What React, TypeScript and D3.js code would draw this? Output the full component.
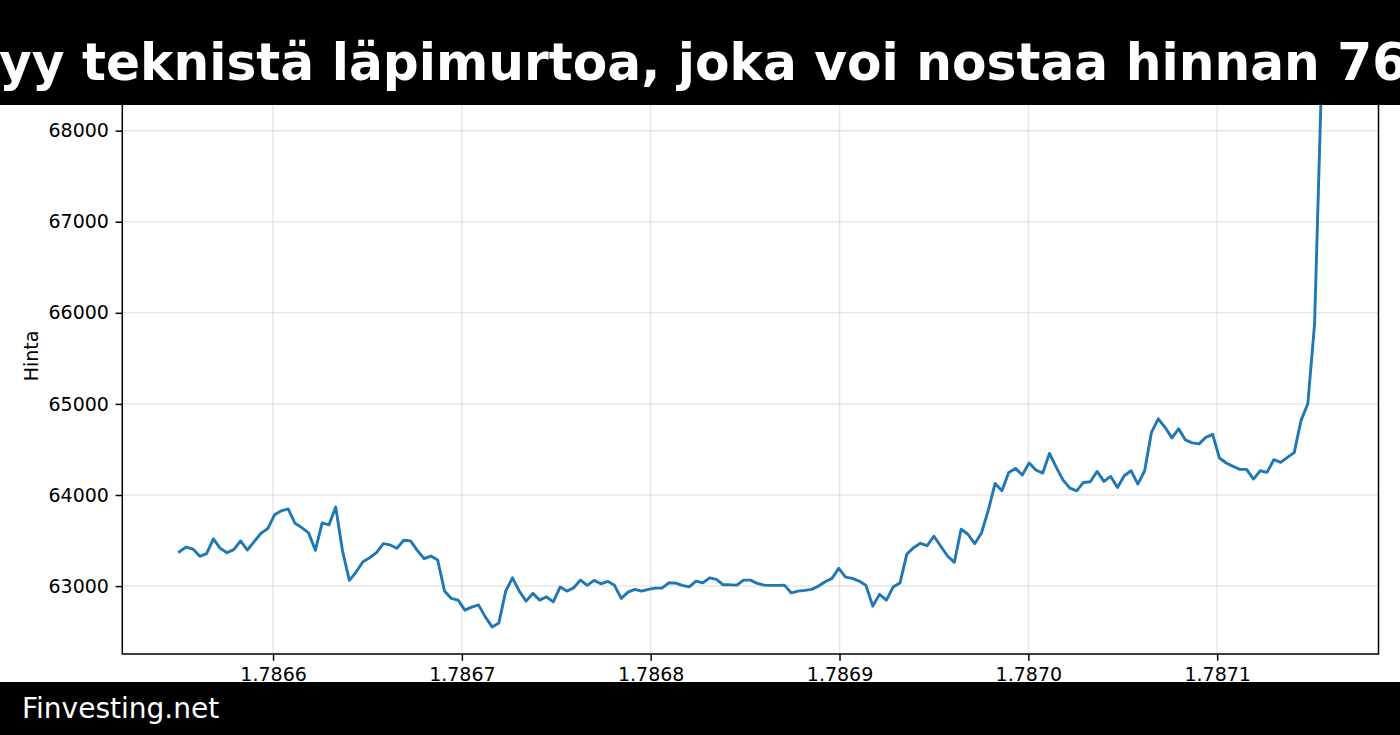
import React, { useEffect, useLayoutEffect, useRef, useState } from "react";
import * as d3 from "d3";

// ---- data ----
const START_TS = 1786550400; // first timestamp (s)
const STEP_S = 3600; // hourly
const prices: number[] = [
  63378, 63429, 63407, 63327, 63356, 63518, 63415, 63367, 63400, 63496,
  63396, 63488, 63580, 63631, 63782, 63826, 63848, 63690, 63642, 63584,
  63393, 63694, 63672, 63867, 63385, 63063, 63154, 63268, 63312, 63367,
  63466, 63452, 63415, 63503, 63496, 63393, 63301, 63330, 63286, 62945,
  62865, 62846, 62736, 62769, 62794, 62662, 62552, 62596, 62945, 63091,
  62945, 62835, 62920, 62846, 62882, 62827, 62989, 62945, 62981, 63066,
  63008, 63063, 63025, 63052, 63008, 62865, 62934, 62964, 62945, 62964,
  62978, 62978, 63036, 63033, 63008, 62992, 63055, 63036, 63091, 63074,
  63014, 63014, 63011, 63066, 63066, 63030, 63011, 63008, 63008, 63011,
  62926, 62945, 62953, 62964, 63000, 63047, 63085, 63195, 63099, 63085,
  63055, 63008, 62780, 62909, 62846, 62989, 63033, 63349, 63422, 63470,
  63444, 63547, 63437, 63330, 63261, 63624, 63569, 63466, 63584, 63834,
  64127, 64046, 64248, 64292, 64219, 64351, 64274, 64241, 64457, 64303,
  64164, 64076, 64046, 64138, 64145, 64259, 64149, 64204, 64083, 64211,
  64266, 64120, 64266, 64688, 64836, 64743, 64627, 64726, 64605, 64572,
  64561, 64633, 64666, 64406, 64351, 64314, 64281, 64281, 64175, 64266,
  64248, 64388, 64358, 64413, 64465, 64817, 65001, 65882, 68500,
];
const xTickValues = [1786600000, 1786700000, 1786800000, 1786900000, 1787000000, 1787100000];
const yTickValues = [63000, 64000, 65000, 66000, 67000, 68000, 69000];
const TITLE = "Bitcoinissa näkyy teknistä läpimurtoa, joka voi nostaa hinnan 76 000 dollariin";
const TITLE_HIDDEN_PREFIX = "Bitcoinissa näk";
const FOOTER = "Finvesting.net";
const Y_LABEL = "Hinta";

const W = 1400;
const H = 735;
const PLOT = { left: 122.3, right: 1378.5, top: 58, bottom: 654 };
const FONT = "'DejaVu Sans', sans-serif";
const TITLE_SX = 0.985;

export default function App() {
  const xAxisRef = useRef<SVGGElement>(null);
  const yAxisRef = useRef<SVGGElement>(null);
  const titleRef = useRef<SVGTextElement>(null);
  const [titleX, setTitleX] = useState(-460);

  const data = prices.map((p, i) => ({ t: START_TS + i * STEP_S, p }));
  const [t0, t1] = d3.extent(data, (d) => d.t) as [number, number];
  const [p0, p1] = d3.extent(data, (d) => d.p) as [number, number];
  const tPad = (t1 - t0) * 0.05;
  const pPad = (p1 - p0) * 0.05;
  const x = d3.scaleLinear().domain([t0 - tPad, t1 + tPad]).range([PLOT.left, PLOT.right]);
  const y = d3.scaleLinear().domain([p0 - pPad, p1 + pPad]).range([PLOT.bottom, PLOT.top]);

  const line = d3
    .line<{ t: number; p: number }>()
    .x((d) => x(d.t))
    .y((d) => y(d.p));

  const yTicks = yTickValues.filter((v) => v >= y.domain()[0] && v <= y.domain()[1]);

  useEffect(() => {
    document.body.style.margin = "0";
    const tick = 6.7;
    if (xAxisRef.current) {
      const g = d3.select(xAxisRef.current);
      g.call(
        d3
          .axisBottom(x)
          .tickValues(xTickValues)
          .tickSize(tick)
          .tickPadding(6.7)
          .tickFormat((v) => ((v as number) / 1e9).toFixed(4))
      );
      g.attr("font-family", FONT).attr("font-size", 19);
      g.select(".domain").remove();
      g.selectAll(".tick line").attr("stroke", "#000").attr("stroke-width", 1.5);
      g.selectAll(".tick text").attr("fill", "#000");
    }
    if (yAxisRef.current) {
      const g = d3.select(yAxisRef.current);
      g.call(
        d3
          .axisLeft(y)
          .tickValues(yTicks)
          .tickSize(tick)
          .tickPadding(6.7)
          .tickFormat((v) => String(v))
      );
      g.attr("font-family", FONT).attr("font-size", 19);
      g.select(".domain").remove();
      g.selectAll(".tick line").attr("stroke", "#000").attr("stroke-width", 1.5);
      g.selectAll(".tick text").attr("fill", "#000");
    }
  }, []);

  useLayoutEffect(() => {
    const el = titleRef.current;
    if (!el) return;
    try {
      const w = el.getSubStringLength(0, TITLE_HIDDEN_PREFIX.length);
      setTitleX(-1 / TITLE_SX - w);
    } catch (e) {
      /* keep estimate */
    }
  }, []);

  return (
    <svg
      width={W}
      height={H}
      viewBox={`0 0 ${W} ${H}`}
      style={{ position: "absolute", left: 0, top: 0, display: "block", background: "#fff" }}
    >
      <rect x={0} y={0} width={W} height={H} fill="#fff" />
      {/* grid */}
      <g stroke="#b0b0b0" strokeOpacity={0.3} strokeWidth={1.5}>
        {xTickValues.map((v) => (
          <line key={"gx" + v} x1={x(v)} x2={x(v)} y1={PLOT.top} y2={PLOT.bottom} />
        ))}
        {yTicks.map((v) => (
          <line key={"gy" + v} x1={PLOT.left} x2={PLOT.right} y1={y(v)} y2={y(v)} />
        ))}
      </g>
      {/* price line */}
      <path
        d={line(data) || ""}
        fill="none"
        stroke="#1f77b4"
        strokeWidth={2.9}
        strokeLinejoin="round"
        strokeLinecap="square"
      />
      {/* spines */}
      <rect
        x={PLOT.left}
        y={PLOT.top}
        width={PLOT.right - PLOT.left}
        height={PLOT.bottom - PLOT.top}
        fill="none"
        stroke="#000"
        strokeWidth={1.5}
      />
      <g ref={xAxisRef} transform={`translate(0,${PLOT.bottom})`} />
      <g ref={yAxisRef} transform={`translate(${PLOT.left},0)`} />
      <text
        transform={`translate(31,${(PLOT.top + PLOT.bottom) / 2}) rotate(-90)`}
        textAnchor="middle"
        fontFamily={FONT}
        fontSize={19}
        fill="#000"
        dy="0.35em"
      >
        {Y_LABEL}
      </text>
      {/* title bar */}
      <rect x={0} y={0} width={W} height={105} fill="#000" />
      <text
        ref={titleRef}
        transform={`scale(${TITLE_SX},1)`}
        x={titleX}
        y={80}
        fontFamily={FONT}
        fontWeight="bold"
        fontSize={51}
        fill="#fff"
        textAnchor="start"
      >
        {TITLE}
      </text>
      {/* footer */}
      <rect x={0} y={682} width={W} height={H - 682} fill="#000" />
      <text x={22} y={718} fontFamily={FONT} fontSize={28} fill="#fff">
        {FOOTER}
      </text>
    </svg>
  );
}
